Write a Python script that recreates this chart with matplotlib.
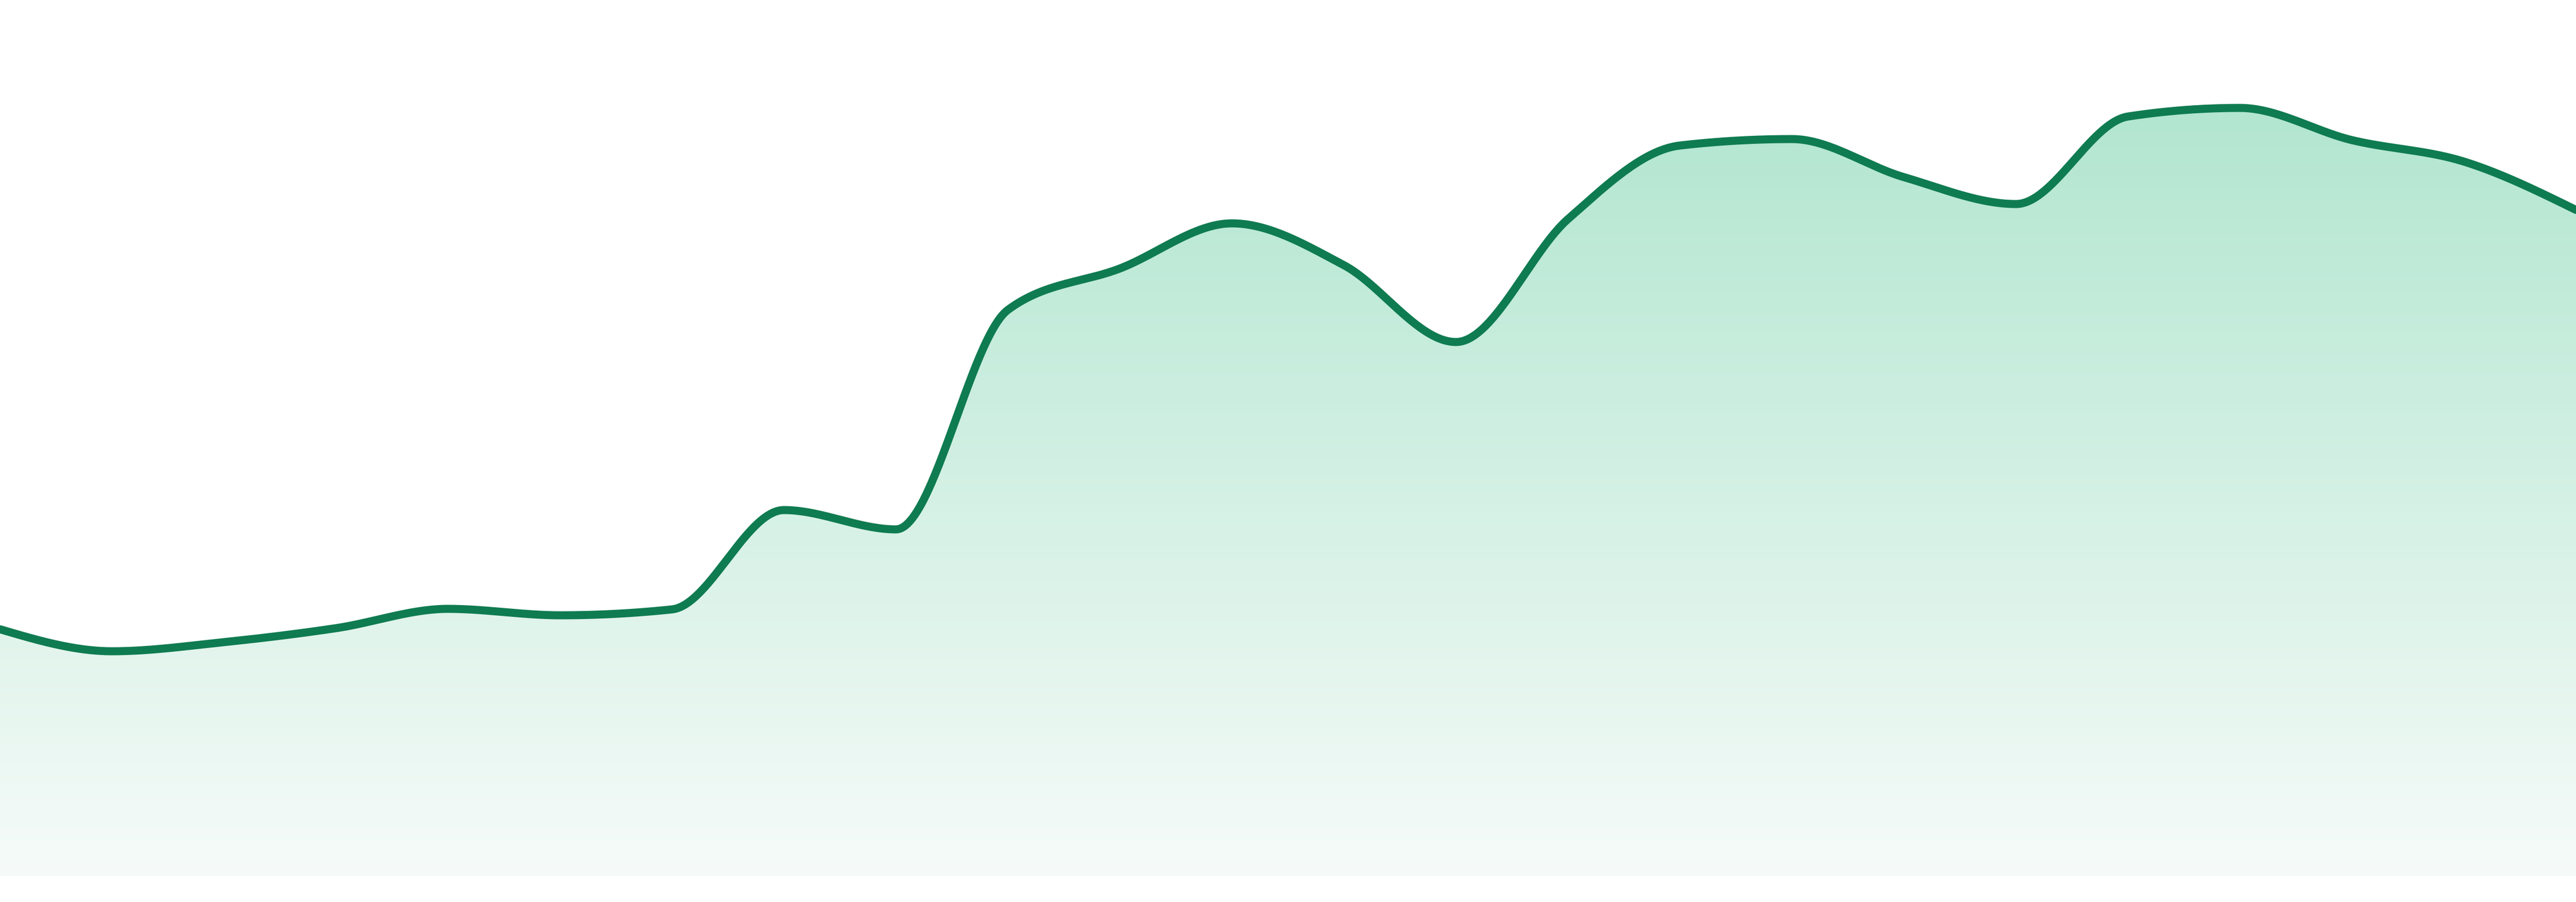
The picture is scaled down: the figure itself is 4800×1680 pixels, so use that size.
import numpy as np
import matplotlib
matplotlib.use("Agg")
import matplotlib.pyplot as plt
from matplotlib.colors import LinearSegmentedColormap
from matplotlib.patches import Polygon

# values, one per evenly spaced step
steps = list(range(24))
values = [460, 419, 436, 462, 498, 486, 497, 682, 646, 1055, 1132, 1216,
          1138, 995, 1224, 1361, 1373, 1302, 1252, 1415, 1431, 1371, 1331, 1241]

line_color = "#0f7b51"
fill_top = "#b2e6d0"
fill_bottom = "#f6fbf9"


def monotone_x(x, y, n=60):
    # same slopes as d3.curveMonotoneX
    x = np.asarray(x, float)
    y = np.asarray(y, float)
    h = np.diff(x)
    s = np.diff(y) / h
    t = np.zeros(len(x))
    for i in range(1, len(x) - 1):
        p = (s[i - 1] * h[i] + s[i] * h[i - 1]) / (h[i - 1] + h[i])
        t[i] = (np.sign(s[i - 1]) + np.sign(s[i])) * min(abs(s[i - 1]), abs(s[i]), 0.5 * abs(p))
    t[0] = (3 * s[0] - t[1]) / 2
    t[-1] = (3 * s[-1] - t[-2]) / 2
    xs, ys = [], []
    for i in range(len(x) - 1):
        u = np.linspace(0, 1, n, endpoint=False)
        dx = h[i] / 3
        p0, p1 = y[i], y[i] + dx * t[i]
        p2, p3 = y[i + 1] - dx * t[i + 1], y[i + 1]
        xs.append(x[i] + u * h[i])
        ys.append((1 - u) ** 3 * p0 + 3 * (1 - u) ** 2 * u * p1 + 3 * (1 - u) * u ** 2 * p2 + u ** 3 * p3)
    xs.append([x[-1]])
    ys.append([y[-1]])
    return np.concatenate(xs), np.concatenate(ys)


fig = plt.figure(figsize=(16, 5.6), dpi=300)
fig.patch.set_facecolor("white")
bottom = 48 / 1680
ax = fig.add_axes([0, bottom, 1, 1 - bottom])
ax.set_xlim(steps[0], steps[-1])
ax.set_ylim(0, 1632)
ax.axis("off")

cx, cy = monotone_x(steps, values)

# gradient fill under the line
top = max(values)
cmap = LinearSegmentedColormap.from_list("fade", [fill_bottom, fill_top])
grad = np.linspace(0, 1, 256).reshape(-1, 1)
img = ax.imshow(grad, cmap=cmap, aspect="auto", origin="lower",
                extent=[steps[0], steps[-1], 0, top], zorder=1)
poly = Polygon(np.column_stack([np.r_[cx, cx[-1], cx[0]], np.r_[cy, 0, 0]]),
               closed=True, facecolor="none", edgecolor="none")
ax.add_patch(poly)
img.set_clip_path(poly)

ax.plot(cx, cy, color=line_color, linewidth=3.6, solid_capstyle="round",
        solid_joinstyle="round", zorder=2, clip_on=True)

fig.savefig("out.png", dpi=300, facecolor="white")
